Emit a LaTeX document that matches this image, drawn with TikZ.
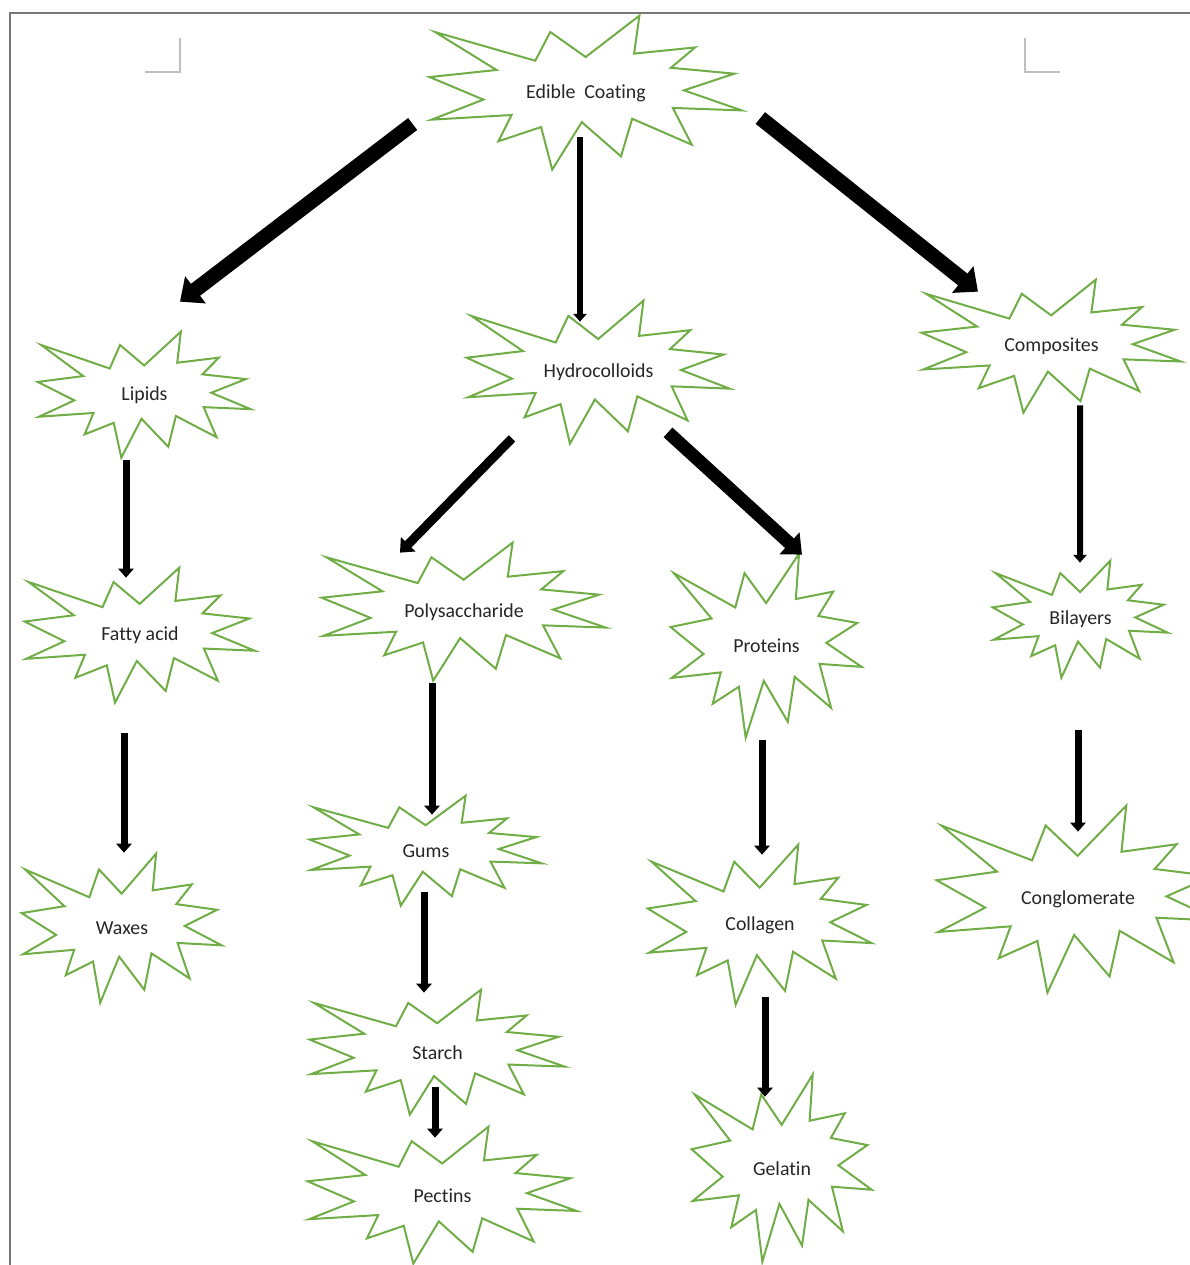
\documentclass[tikz,border=0pt]{standalone}
\usepackage{fontspec}
\setmainfont{Carlito}[Ligatures=NoCommon]
\usetikzlibrary{arrows.meta,calc}

\definecolor{sealgreen}{RGB}{112,173,71}
\definecolor{framegray}{RGB}{120,120,120}

\begin{document}
\begin{tikzpicture}[
    x=0.02cm, y=-0.02cm,
    font=\fontsize{11.3}{13}\selectfont,
    seal/.style 2 args={
        minimum width=#1*0.02cm,
        minimum height=#2*0.02cm,
        inner sep=0pt,
        text=black!85
    },
    boom/.style={draw=sealgreen, line width=0.04cm},
    arr/.style={-{Triangle[length=0pt 1.3, width=0pt 2.2]}, line width=#1*0.02cm},
    arr/.default=7,
    frame/.style={draw=framegray, line width=0.04cm},
    crop/.style={draw=black!25, line width=0.03cm}
]

% cadre de page
\useasboundingbox (0,0) rectangle (1190,1265);
\draw[frame] (10,1265) -- (10,13) -- (1190,13);
\draw[crop] (145,72) -- (180,72) -- (180,38);
\draw[crop] (1060,72) -- (1025,72) -- (1025,38);

% niveau 1
\node[seal={312}{154}] (edible) at (586,93)     {Edible~~Coating};
% niveau 2
\node[seal={213}{126}] (lipids) at (144.5,395)  {Lipids};
\node[seal={263}{143}] (hydro)  at (598.5,372.5){Hydrocolloids};
\node[seal={259}{133}] (comp)   at (1051.5,346.5){Composites};
% niveau 3
\node[seal={230}{135}] (fatty)  at (140,635.5)  {Fatty acid};
\node[seal={284}{138}] (poly)   at (464,612)    {Polysaccharide};
\node[seal={191}{184}] (prot)   at (766.5,646)  {Proteins};
\node[seal={175}{117}] (bilay)  at (1080.5,619.5){Bilayers};
% niveau 4
\node[seal={200}{149}] (waxes)  at (122,928.5)  {Waxes};
\node[seal={232}{110}] (gums)   at (426,851)    {Gums};
\node[seal={224}{160}] (collag) at (760,925)    {Collagen};
\node[seal={282}{187}] (conglo) at (1078,899.5) {Conglomerate};
% niveau 5
\node[seal={255}{125}] (starch) at (437.5,1052.5){Starch};
\node[seal={180}{187}] (gelat)  at (782,1168.5) {Gelatin};
% niveau 6
\node[seal={269}{137}] (pectin) at (442.5,1195.5){Pectins};

% contours en explosion
\foreach \n/\w/\h in {edible/312/154, lipids/213/126, hydro/263/143, comp/259/133,
    fatty/230/135, poly/284/138, prot/191/184, bilay/175/117, waxes/200/149,
    gums/232/110, collag/224/160, conglo/282/187, starch/255/125, gelat/180/187,
    pectin/269/137}
  \draw[boom, shift={(\n.north west)}, xscale=\w/21.6, yscale=\h/21.6]
    (10.8,5.8) -- (14.522,0) -- (14.155,5.325) -- (18.38,4.457) -- (16.702,7.315)
    -- (21.097,8.137) -- (17.607,10.475) -- (21.6,13.29) -- (16.837,12.942)
    -- (18.145,18.095) -- (14.02,14.457) -- (13.247,19.737) -- (10.532,14.935)
    -- (8.485,21.6) -- (7.715,15.627) -- (4.762,17.617) -- (5.667,13.937)
    -- (0.135,14.587) -- (3.722,11.775) -- (0,8.615) -- (4.627,7.617)
    -- (0.37,2.295) -- (7.312,6.32) -- (8.352,2.295) -- cycle;

% flèches
\draw[arr=15] ($(edible.west)+(-17,31)$)   -- ($(lipids.north)+(35.5,-30)$);
\draw[arr=6]  ($(edible.south)+(-6,-33)$)  -- ($(hydro.north)+(-18.5,21)$);
\draw[arr=15] ($(edible.east)+(18,25)$)    -- ($(comp.north)+(-73.5,12)$);
\draw[arr]    ($(lipids.south)+(-18.5,2)$) -- ($(fatty.north)+(-14,10)$);
\draw[arr]    ($(fatty.south)+(-16,30)$)   -- ($(waxes.north)+(2,-1)$);
\draw[arr=9]  ($(hydro.south)+(-86.5,-6)$) -- ($(poly.north)+(-64,10)$);
\draw[arr=13] ($(hydro.south)+(69.5,-12)$) -- ($(prot.north)+(35.5,1)$);
\draw[arr]    ($(poly.south)+(-32,2)$)     -- ($(gums.north)+(6,19)$);
\draw[arr]    ($(gums.south)+(-2,-14)$)    -- ($(starch.north)+(-13.5,3)$);
\draw[arr]    ($(starch.south)+(-2.5,-28)$) -- ($(pectin.north)+(-7.5,11)$);
\draw[arr]    ($(prot.south)+(-4.5,2)$)    -- ($(collag.north)+(2,10)$);
\draw[arr]    ($(collag.south)+(5,-8)$)    -- ($(gelat.north)+(-17,22)$);
\draw[arr=6]  ($(comp.south)+(28.5,-8)$)   -- ($(bilay.north)+(-0.5,2)$);
\draw[arr]    ($(bilay.south)+(-2.5,52)$)  -- ($(conglo.north)+(0,26)$);

\end{tikzpicture}
\end{document}
